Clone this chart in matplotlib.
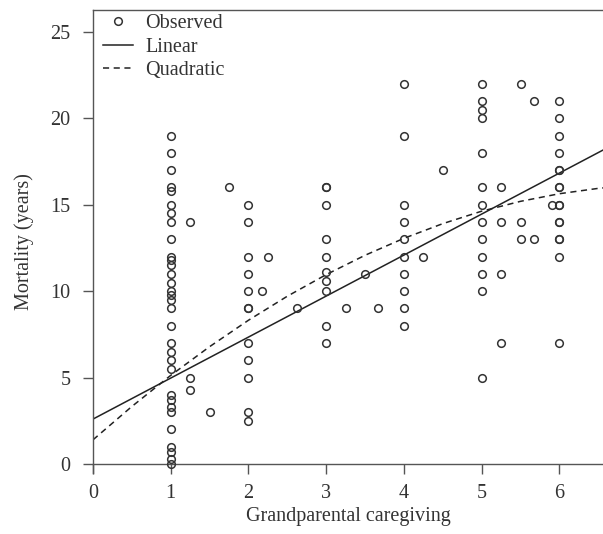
import matplotlib
matplotlib.use("Agg")
import matplotlib.pyplot as plt

# Observed points, grouped by grandparental caregiving score (x) -> mortality (years)
col1_y = [19, 18, 17, 16, 15.8, 15, 14.5, 14, 13, 12, 11.8, 11.5, 11, 10.5, 10, 9.8,
          9.5, 9, 8, 7, 6.5, 6, 5.5, 4, 3.7, 3.3, 3, 2, 1, 0.7, 0.3, 0]
col2_y = [15, 14, 12, 11, 10, 9, 9, 7, 6, 5, 3, 2.5]
col3_y = [16, 16, 15, 13, 12, 11.1, 10.6, 10, 8, 7]
col4_y = [22, 19, 15, 14, 13, 12, 11, 10, 9, 8]
col5_y = [22, 21, 20.5, 20, 18, 16, 15, 14, 13, 12, 11, 10, 5]
col6_y = [21, 20, 19, 18, 17, 17, 16, 16, 15, 15, 14, 14, 13, 13, 12, 7]
mid_x = [1.25, 1.25, 1.25, 1.5, 1.75, 2.17, 2.25, 2.63, 3.25, 3.5, 3.67, 4.25, 4.5,
         5.25, 5.25, 5.25, 5.25, 5.5, 5.5, 5.5, 5.67, 5.67, 5.9]
mid_y = [14, 5, 4.3, 3, 16, 10, 12, 9, 9, 11, 9, 12, 17,
         16, 14, 11, 7, 22, 14, 13, 21, 13, 15]

# Linear fit line
lin_x = [0, 6.6]
lin_y = [2.6, 18.26]

# Quadratic fit curve
quad_x = [0, 0.5, 1.0, 1.5, 2.0, 2.5, 3.0, 3.5, 4.0, 4.5, 5.0, 5.5, 6.0, 6.5, 6.6]
quad_y = [1.40, 3.33, 5.13, 6.79, 8.32, 9.71, 10.96, 12.08, 13.06, 13.91,
          14.63, 15.20, 15.64, 15.95, 15.99]

x_ticks = [0, 1, 2, 3, 4, 5, 6]
y_ticks = [0, 5, 10, 15, 20, 25]

cols = [col1_y, col2_y, col3_y, col4_y, col5_y, col6_y]
obs_x = [i + 1 for i, c in enumerate(cols) for _ in c] + mid_x
obs_y = [v for c in cols for v in c] + mid_y

plt.rcParams['font.family'] = ['Liberation Serif', 'DejaVu Serif']
FS = 14.5
TXT = '#333333'
AX = '#555555'

fig = plt.figure(figsize=(6.03, 5.34), dpi=100)
ax = fig.add_axes([93 / 603, 61 / 534, 1 - 93 / 603, (473 - 10) / 534])

ax.plot(obs_x, obs_y, linestyle='none', marker='o', markersize=5.5,
        markerfacecolor='none', markeredgecolor='#333333', markeredgewidth=1.1,
        label='Observed', zorder=3)
ax.plot(lin_x, lin_y, color='#222222', linewidth=1.1, label='Linear')
ax.plot(quad_x, quad_y, color='#222222', linewidth=1.1, linestyle=(0, (4, 3)),
        label='Quadratic')

ax.set_xlim(0, 6.56)
ax.set_ylim(-0.52, 26.27)
ax.set_xticks(x_ticks)
ax.set_yticks(y_ticks)

ax.spines['right'].set_visible(False)
ax.spines['bottom'].set_position(('data', 0))
for s in ['left', 'bottom', 'top']:
    ax.spines[s].set_color(AX)
    ax.spines[s].set_linewidth(1.0)

ax.tick_params(axis='both', direction='out', length=7.2, width=1.0,
               color=AX, labelsize=FS, labelcolor=TXT)
ax.tick_params(axis='y', pad=9)
ax.tick_params(axis='x', pad=7)

ax.set_xlabel('Grandparental caregiving', fontsize=FS, color=TXT, labelpad=3)
ax.set_ylabel('Mortality (years)', fontsize=FS, color=TXT, labelpad=12)

leg = ax.legend(loc='upper left', bbox_to_anchor=(0.012, 1.0), frameon=False,
                fontsize=FS, handlelength=1.5, handletextpad=0.6,
                labelspacing=0.22, borderaxespad=0.0, borderpad=0.2)
for t in leg.get_texts():
    t.set_color(TXT)

fig.savefig('out.png', dpi=100)
